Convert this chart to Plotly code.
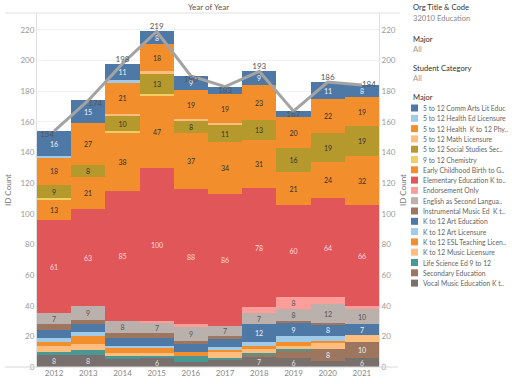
import plotly.graph_objects as go

years = ["2012", "2013", "2014", "2015", "2016", "2017", "2018", "2019", "2020", "2021"]

# series, bottom of stack first
vocal = [8, 8, 5, 6, 3, 5, 7, 6, 4, 6]
secondary = [0, 0, 0, 0, 0, 0, 1, 5, 8, 10]
life_sci = [2, 3, 2, 1, 4, 1, 1, 1, 0, 0]
music_lic = [4, 4, 2, 2, 0, 4, 3, 2, 4, 5]
esl_teach = [2, 5, 4, 4, 3, 1, 2, 2, 1, 0]
art_lic = [3, 3, 1, 1, 0, 2, 2, 4, 3, 0]
art_ed = [5, 5, 5, 5, 5, 5, 12, 9, 8, 7]
instr = [4, 3, 3, 3, 2, 2, 0, 1, 1, 0]
english = [7, 9, 8, 7, 9, 7, 7, 8, 12, 10]
endorse = [0, 0, 0, 1, 2, 0, 4, 8, 5, 2]
elem = [61, 63, 85, 100, 88, 86, 78, 60, 64, 66]
early = [13, 21, 38, 47, 37, 34, 31, 21, 24, 32]
chem = [1, 0, 1, 1, 0, 0, 0, 0, 0, 0]
social = [9, 8, 10, 13, 8, 11, 13, 16, 19, 19]
math_lic = [0, 0, 1, 2, 1, 1, 0, 0, 0, 0]
health_k12 = [18, 27, 21, 18, 19, 19, 23, 20, 22, 19]
health_ed = [1, 0, 1, 0, 0, 0, 0, 0, 0, 0]
comm_arts = [16, 15, 11, 8, 9, 5, 9, 4, 11, 8]

names = [
    "Vocal Music Education K t..", "Secondary Education", "Life Science Ed 9 to 12",
    "K to 12 Music Licensure", "K to 12 ESL Teaching Licen..", "K to 12 Art Licensure",
    "K to 12 Art Education", "Instrumental Music Ed  K t..", "English as Second Langua..",
    "Endorsement Only", "Elementary Education K to..", "Early Childhood Birth to G..",
    "9 to 12 Chemistry", "5 to 12 Social Studies Sec..", "5 to 12 Math Licensure",
    "5 to 12 Health  K to 12 Phy..", "5 to 12 Health Ed Licensure", "5 to 12 Comm Arts Lit Educ",
]
series = [vocal, secondary, life_sci, music_lic, esl_teach, art_lic, art_ed, instr, english,
          endorse, elem, early, chem, social, math_lic, health_k12, health_ed, comm_arts]
colors = ["#79706e", "#9d7660", "#499894", "#ffbe7d", "#f28e2b", "#a0cbe8", "#4e79a7",
          "#9d7660", "#bab0ac", "#ff9d9a", "#e15759", "#f28e2b", "#f1ce63", "#b6992d",
          "#ffbe7d", "#f28e2b", "#a0cbe8", "#4e79a7"]
text_colors = ["#e0e0e0", "#f0f0f0", "#ffffff", "#444", "#333", "#333", "#eef2f8",
               "#eee", "#555", "#555", "#ffd9d9", "#333", "#333", "#333",
               "#333", "#333", "#333", "#eef2f8"]

totals = [sum(s[i] for s in series) for i in range(len(years))]
total_pos = ["bottom left", "bottom right", "top center", "top center", "bottom center",
             "bottom center", "top center", "bottom center", "top center", "middle right"]

FONT = "Lato"
fig = go.Figure()
for name, vals, col, tc in zip(names, series, colors, text_colors):
    fig.add_trace(go.Bar(
        x=years, y=vals, name=name, marker=dict(color=col, line=dict(width=0)),
        text=[str(v) if v >= 6 else "" for v in vals],
        textposition="inside", insidetextanchor="middle", textangle=0,
        textfont=dict(size=7, color=tc, family=FONT), showlegend=False,
    ))

fig.add_trace(go.Scatter(
    x=years, y=totals, yaxis="y2", mode="lines+text", cliponaxis=False,
    line=dict(color="#a3a3a3", width=3),
    text=[str(t) for t in totals], textposition=total_pos,
    textfont=dict(size=8, color="#555", family=FONT), showlegend=False,
))

L, R, T, B = 37, 379, 14, 367
W, H = R - L, B - T

def px(x):
    return (x - L) / W

def py(y):
    return 1 - (y - T) / H

ymax = 230.4
annotations = [
    dict(text="Year of Year", x=0.5, y=py(7), xref="paper", yref="paper", showarrow=False,
         font=dict(size=8, color="#555", family=FONT), xanchor="center", yanchor="middle"),
    dict(text="ID Count", x=px(8), y=py(190), xref="paper", yref="paper", showarrow=False,
         textangle=-90, font=dict(size=8, color="#777", family=FONT),
         xanchor="center", yanchor="middle"),
    dict(text="ID Count", x=px(403), y=py(190), xref="paper", yref="paper", showarrow=False,
         textangle=-90, font=dict(size=8, color="#777", family=FONT),
         xanchor="center", yanchor="middle"),
]
panel = [("Org Title & Code", 7, "#333"), ("32010 Education", 18, "#888"),
         ("Major", 39, "#333"), ("All", 49, "#999"),
         ("Student Category", 68, "#333"), ("All", 78, "#999"),
         ("Major", 97, "#333")]
for txt, ypos, col in panel:
    annotations.append(dict(text=txt, x=px(411), y=py(ypos), xref="paper", yref="paper",
                            showarrow=False, xanchor="left", yanchor="middle",
                            font=dict(size=7.6, color=col, family=FONT)))

shapes = [
    dict(type="line", xref="paper", yref="paper", x0=px(5), x1=px(400), y0=py(13), y1=py(13),
         line=dict(color="#e0e0e0", width=1)),
    dict(type="line", xref="paper", yref="paper", x0=px(5), x1=px(398), y0=0, y1=0,
         line=dict(color="#d8d8d8", width=1)),
]
legend_order = list(range(len(names)))[::-1]
for k, idx in enumerate(legend_order):
    yc = 108 + k * 10.3
    shapes.append(dict(type="rect", xref="paper", yref="paper",
                       x0=px(411), x1=px(418), y0=py(yc + 3.5), y1=py(yc - 3.5),
                       fillcolor=colors[idx], line=dict(width=0)))
    annotations.append(dict(text=names[idx], x=px(421), y=py(yc), xref="paper", yref="paper",
                            showarrow=False, xanchor="left", yanchor="middle",
                            font=dict(size=6.8, color="#666", family=FONT)))

fig.update_layout(
    width=512, height=384, autosize=False,
    margin=dict(l=L, r=512 - R, t=T, b=384 - B, autoexpand=False),
    paper_bgcolor="white", plot_bgcolor="white",
    barmode="stack", bargap=0, hovermode=False,
    font=dict(family=FONT, size=8, color="#888"),
    xaxis=dict(type="category", showgrid=False, ticks="", showline=False, automargin=False,
               tickfont=dict(size=8, color="#888")),
    yaxis=dict(range=[0, ymax], tickvals=list(range(0, 221, 20)), showgrid=True,
               gridcolor="#f2f2f2", zeroline=False, showline=True, linecolor="#e0e0e0",
               automargin=False, tickfont=dict(size=8, color="#999")),
    yaxis2=dict(range=[0, ymax], overlaying="y", side="right", tickvals=list(range(0, 221, 20)),
                showgrid=False, zeroline=False, showline=True, linecolor="#e0e0e0",
                automargin=False, tickfont=dict(size=8, color="#999")),
    uniformtext=dict(minsize=7, mode="show"),
    annotations=annotations, shapes=shapes,
)

fig.write_html("out.html", config={"displayModeBar": False},
               post_script="document.body.style.margin='0';")
